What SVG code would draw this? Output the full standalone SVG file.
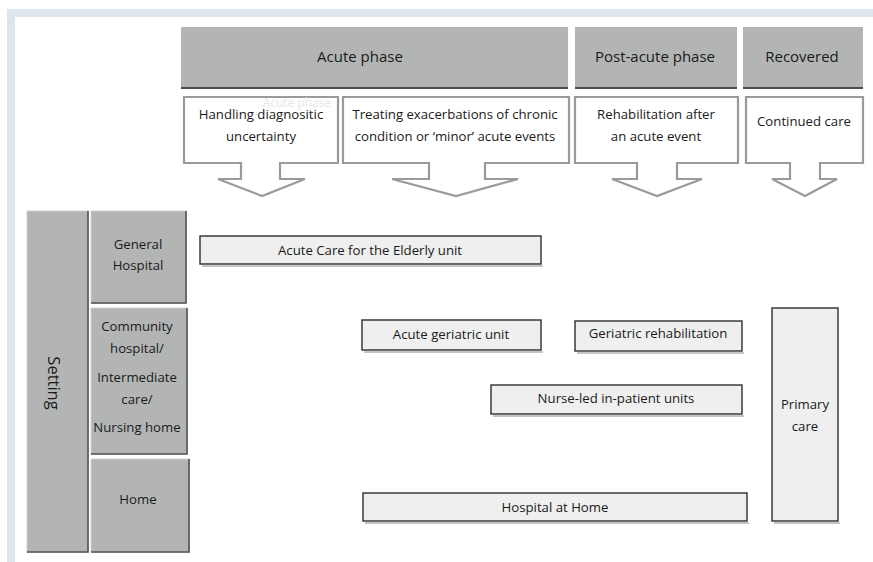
<svg xmlns="http://www.w3.org/2000/svg" width="873" height="562" viewBox="0 0 873 562">
  <style>
    text { font-family: "Open Sans", "Liberation Sans", sans-serif; fill: #1a1a1a; text-anchor: middle; }
    .hdr { fill: #b3b5b5; }
    .hdrline { stroke: #4d4f4f; stroke-width: 2; }
    .callout { fill: #ffffff; stroke: #999a9a; stroke-width: 2.2; stroke-linejoin: miter; }
    .side { fill: #b3b5b5; stroke: #d0d2d2; stroke-width: 1; }
    .shade { fill: none; stroke: #4d4f4f; stroke-width: 1.6; }
    .unit { fill: #eeefee; stroke: #2e2e2e; stroke-width: 1.4; }
    .unitshadow { fill: #c4c6c6; }
    .t15 { font-size: 15px; }
    .t13 { font-size: 13.2px; }
  </style>

  <!-- page frame -->
  <rect x="7" y="9" width="866" height="553" fill="#dfe5ef"/>
  <rect x="15" y="17" width="858" height="545" fill="#ffffff"/>

  <!-- phase headers -->
  <g id="hdr-acute">
    <rect class="hdr" x="181" y="27" width="387" height="61"/>
    <line class="hdrline" x1="181" y1="88" x2="568" y2="88"/>
    <text class="t15" x="360" y="62">Acute phase</text>
  </g>
  <g id="hdr-postacute">
    <rect class="hdr" x="575" y="27" width="162" height="61"/>
    <line class="hdrline" x1="575" y1="88" x2="737" y2="88"/>
    <text class="t15" x="655" y="62">Post-acute phase</text>
  </g>
  <g id="hdr-recovered">
    <rect class="hdr" x="743" y="27" width="120" height="61"/>
    <line class="hdrline" x1="743" y1="88" x2="863" y2="88"/>
    <text class="t15" x="802" y="62">Recovered</text>
  </g>

  <!-- downward callouts -->
  <g id="call-diagnostic">
    <path class="callout" d="M184,97 H338 V163 H280 V179 H305 L262,196 L218,179 H241 V163 H184 Z"/>
    <text x="297" y="107" font-size="12px" style="fill:#e6e6e6">Acute phase</text>
    <text class="t13" x="261" y="119">Handling diagnositic</text>
    <text class="t13" x="261" y="141">uncertainty</text>
  </g>
  <g id="call-exacerbation">
    <path class="callout" d="M343,97 H569 V163 H485 V179 H518 L456,196 L392,179 H429 V163 H343 Z"/>
    <text class="t13" x="455" y="119">Treating exacerbations of chronic</text>
    <text class="t13" x="455" y="141">condition or ‘minor’ acute events</text>
  </g>
  <g id="call-rehab">
    <path class="callout" d="M575,97 H738 V163 H677 V179 H702 L657,196 L612,179 H637 V163 H575 Z"/>
    <text class="t13" x="656" y="119">Rehabilitation after</text>
    <text class="t13" x="656" y="141">an acute event</text>
  </g>
  <g id="call-continued">
    <path class="callout" d="M746,97 H863 V163 H820 V179 H837 L805,196 L772,179 H790 V163 H746 Z"/>
    <text class="t13" x="804" y="126">Continued care</text>
  </g>

  <!-- setting column -->
  <g id="setting">
    <rect class="side" x="27" y="211" width="61" height="341"/>
    <path class="shade" d="M27,552 H88 V211"/>
    <text transform="translate(53,383) rotate(90)" y="5" font-size="16.5px">Setting</text>
  </g>
  <g id="set-general">
    <rect class="side" x="91" y="211" width="95" height="92"/>
    <path class="shade" d="M91,303 H186 V211"/>
    <text class="t13" x="138" y="249">General</text>
    <text class="t13" x="138" y="270">Hospital</text>
  </g>
  <g id="set-community">
    <rect class="side" x="91" y="308" width="96" height="146"/>
    <path class="shade" d="M91,454 H187 V308"/>
    <text class="t13" x="137" y="331">Community</text>
    <text class="t13" x="137" y="353">hospital/</text>
    <text class="t13" x="137" y="382">Intermediate</text>
    <text class="t13" x="137" y="404">care/</text>
    <text class="t13" x="137" y="432">Nursing home</text>
  </g>
  <g id="set-home">
    <rect class="side" x="91" y="459" width="98" height="93"/>
    <path class="shade" d="M91,552 H189 V459"/>
    <text class="t13" x="138" y="504">Home</text>
  </g>

  <!-- services -->
  <g id="svc-ace">
    <rect class="unitshadow" x="202" y="265" width="341" height="2"/>
    <rect class="unit" x="200" y="236" width="341" height="28"/>
    <text class="t13" x="370" y="255">Acute Care for the Elderly unit</text>
  </g>
  <g id="svc-acute-geriatric">
    <rect class="unitshadow" x="364" y="351" width="179" height="2"/>
    <rect class="unit" x="362" y="320" width="179" height="30"/>
    <text class="t13" x="451" y="339">Acute geriatric unit</text>
  </g>
  <g id="svc-geriatric-rehab">
    <rect class="unitshadow" x="577" y="352" width="167" height="2"/>
    <rect class="unit" x="575" y="321" width="167" height="30"/>
    <text class="t13" x="658" y="338">Geriatric rehabilitation</text>
  </g>
  <g id="svc-nurse-led">
    <rect class="unitshadow" x="493" y="415" width="251" height="2"/>
    <rect class="unit" x="491" y="385" width="251" height="29"/>
    <text class="t13" x="616" y="403">Nurse-led in-patient units</text>
  </g>
  <g id="svc-hospital-home">
    <rect class="unitshadow" x="365" y="522" width="384" height="2"/>
    <rect class="unit" x="363" y="493" width="384" height="28"/>
    <text class="t13" x="555" y="512">Hospital at Home</text>
  </g>
  <g id="svc-primary">
    <rect class="unitshadow" x="774" y="522" width="66" height="2"/>
    <rect class="unit" x="772" y="308" width="66" height="213"/>
    <text class="t13" x="805" y="409">Primary</text>
    <text class="t13" x="805" y="431">care</text>
  </g>
</svg>
